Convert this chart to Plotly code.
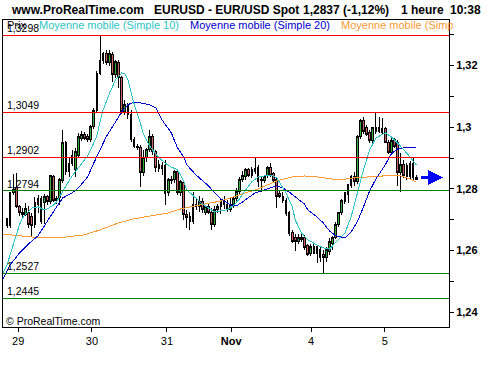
import plotly.graph_objects as go

# ---------------- data ----------------
opens = [1.2703,1.2680,1.2787,1.2803,1.2742,1.2725,1.2716,1.2725,1.2712,1.2686,
         1.2748,1.2768,1.2755,1.2774,1.2758,1.2839,1.2768,1.2771,1.2826,1.2949,
         1.2855,1.2910,1.2862,1.2910,1.2965,1.2978,1.2969,1.2959,1.3001,1.3056,
         1.3176,1.3218,1.3238,1.3209,1.3235,1.3170,1.3209,1.3160,1.3050,1.3073,
         1.3043,1.2959,1.2939,1.2933,1.2852,1.2901,1.2927,1.2969,1.2920,1.2878,
         1.2865,1.2875,1.2787,1.2826,1.2829,1.2855,1.2787,1.2820,1.2716,1.2709,
         1.2693,1.2742,1.2742,1.2758,1.2725,1.2742,1.2725,1.2683,1.2732,1.2742,
         1.2764,1.2748,1.2732,1.2748,1.2768,1.2790,1.2829,1.2839,1.2862,1.2842,
         1.2858,1.2868,1.2829,1.2826,1.2842,1.2868,1.2849,1.2829,1.2784,1.2777,
         1.2764,1.2722,1.2657,1.2644,1.2628,1.2644,1.2641,1.2615,1.2589,1.2612,
         1.2592,1.2602,1.2586,1.2579,1.2596,1.2622,1.2644,1.2683,1.2722,1.2758,
         1.2781,1.2810,1.2839,1.2823,1.2969,1.3021,1.2998,1.2982,1.2956,1.2985,
         1.2998,1.2982,1.2995,1.2952,1.2917,1.2959,1.2949,1.2852,1.2878,1.2875,
         1.2839,1.2881,1.2832]
highs = [1.2706,1.2790,1.2849,1.2852,1.2748,1.2738,1.2755,1.2745,1.2722,1.2774,
         1.2781,1.2777,1.2784,1.2781,1.2845,1.2845,1.2777,1.2836,1.2991,1.2956,
         1.2904,1.2927,1.2933,1.2982,1.2988,1.2985,1.2978,1.3008,1.3063,1.3183,
         1.3300,1.3244,1.3251,1.3251,1.3244,1.3218,1.3218,1.3167,1.3089,1.3079,
         1.3056,1.2969,1.2946,1.2943,1.2927,1.2933,1.2991,1.2978,1.2927,1.2894,
         1.2888,1.2894,1.2836,1.2842,1.2862,1.2862,1.2829,1.2829,1.2732,1.2725,
         1.2790,1.2771,1.2777,1.2771,1.2748,1.2751,1.2738,1.2745,1.2751,1.2771,
         1.2777,1.2764,1.2771,1.2777,1.2803,1.2839,1.2858,1.2868,1.2868,1.2871,
         1.2901,1.2878,1.2842,1.2845,1.2875,1.2884,1.2855,1.2836,1.2797,1.2790,
         1.2771,1.2729,1.2667,1.2654,1.2654,1.2654,1.2651,1.2622,1.2622,1.2622,
         1.2618,1.2612,1.2602,1.2612,1.2641,1.2648,1.2693,1.2725,1.2768,1.2790,
         1.2816,1.2845,1.2855,1.2975,1.3027,1.3034,1.3008,1.2991,1.3001,1.3050,
         1.3034,1.3030,1.3001,1.2959,1.2969,1.2965,1.2959,1.2917,1.2894,1.2884,
         1.2891,1.2904,1.2845]
lows = [1.2674,1.2674,1.2781,1.2738,1.2712,1.2709,1.2712,1.2674,1.2648,1.2674,
        1.2722,1.2686,1.2686,1.2748,1.2751,1.2758,1.2751,1.2748,1.2820,1.2845,
        1.2839,1.2875,1.2839,1.2904,1.2956,1.2959,1.2952,1.2952,1.2995,1.3050,
        1.3170,1.3206,1.3202,1.3199,1.3147,1.3160,1.3128,1.3043,1.3040,1.3027,
        1.2952,1.2933,1.2927,1.2807,1.2842,1.2888,1.2920,1.2910,1.2855,1.2855,
        1.2845,1.2748,1.2777,1.2816,1.2820,1.2781,1.2777,1.2699,1.2674,1.2667,
        1.2686,1.2732,1.2725,1.2722,1.2716,1.2719,1.2667,1.2677,1.2722,1.2719,
        1.2735,1.2725,1.2725,1.2738,1.2761,1.2784,1.2823,1.2829,1.2839,1.2836,
        1.2849,1.2807,1.2790,1.2820,1.2836,1.2839,1.2820,1.2738,1.2771,1.2755,
        1.2712,1.2648,1.2625,1.2599,1.2622,1.2628,1.2602,1.2583,1.2583,1.2589,
        1.2560,1.2563,1.2527,1.2563,1.2586,1.2602,1.2638,1.2677,1.2716,1.2751,
        1.2755,1.2803,1.2810,1.2816,1.2962,1.2978,1.2972,1.2949,1.2949,1.2978,
        1.2982,1.2975,1.2949,1.2914,1.2910,1.2933,1.2810,1.2790,1.2836,1.2829,
        1.2829,1.2826,1.2829]
closes = [1.2680,1.2787,1.2797,1.2742,1.2722,1.2716,1.2735,1.2683,1.2680,1.2755,
          1.2768,1.2693,1.2774,1.2758,1.2842,1.2764,1.2761,1.2832,1.2949,1.2855,
          1.2884,1.2884,1.2920,1.2969,1.2975,1.2965,1.2959,1.3001,1.3056,1.3176,
          1.3218,1.3238,1.3209,1.3238,1.3170,1.3212,1.3160,1.3050,1.3073,1.3043,
          1.2959,1.2939,1.2933,1.2852,1.2901,1.2927,1.2969,1.2920,1.2868,1.2865,
          1.2875,1.2784,1.2829,1.2832,1.2855,1.2787,1.2823,1.2716,1.2706,1.2693,
          1.2748,1.2751,1.2758,1.2732,1.2742,1.2725,1.2683,1.2732,1.2742,1.2764,
          1.2748,1.2732,1.2748,1.2768,1.2790,1.2832,1.2845,1.2862,1.2842,1.2862,
          1.2865,1.2823,1.2826,1.2839,1.2868,1.2845,1.2826,1.2774,1.2774,1.2764,
          1.2719,1.2654,1.2631,1.2628,1.2644,1.2635,1.2609,1.2586,1.2612,1.2592,
          1.2612,1.2579,1.2576,1.2602,1.2628,1.2644,1.2686,1.2722,1.2764,1.2787,
          1.2813,1.2839,1.2823,1.2969,1.3021,1.2985,1.2978,1.2956,1.2998,1.2998,
          1.2985,1.2995,1.2952,1.2917,1.2956,1.2936,1.2852,1.2878,1.2842,1.2839,
          1.2881,1.2836,1.2837]

# moving averages sampled at candle positions
ma10_idx = [-2,0,1,2,3,4,5,7,8,10,12,13,15,16,18,20,21,23,26,27,29,30,31,33,35,37,38,39,41,43,44,46,
            49,51,53,55,57,58,61,63,65,67,69,71,73,75,77,79,81,84,85,87,88,90,92,93,95,97,100,102,
            104,106,109,111,113,115,117,119,122,124,126,128,130,132]
ma10_val = [1.2511,1.2553,1.2586,1.2618,1.2651,1.2683,1.2706,1.2729,1.2738,1.2742,1.2732,1.2735,
            1.2748,1.2758,1.2794,1.2826,1.2842,1.2868,1.2907,1.2927,1.2972,1.3017,1.3056,1.3108,
            1.3154,1.3176,1.3173,1.3154,1.3076,1.3014,1.2978,1.2939,1.2901,1.2884,1.2871,1.2862,
            1.2826,1.2797,1.2768,1.2751,1.2738,1.2725,1.2729,1.2732,1.2745,1.2768,1.2797,1.2823,
            1.2839,1.2845,1.2845,1.2836,1.2820,1.2787,1.2742,1.2699,1.2657,1.2635,1.2618,1.2609,
            1.2605,1.2625,1.2657,1.2709,1.2787,1.2862,1.2927,1.2965,1.2982,1.2969,1.2949,1.2927,
            1.2904,1.2878]
ma20_idx = [-2,0,1,4,7,10,12,14,16,18,21,23,26,28,30,32,34,37,39,41,43,46,48,50,53,55,57,58,61,
            63,65,67,69,72,74,76,78,80,83,85,87,89,91,93,96,97,100,102,104,106,109,111,113,115,
            117,119,122,124,126,128,132]
ma20_val = [1.2495,1.2531,1.2553,1.2592,1.2622,1.2648,1.2680,1.2709,1.2742,1.2771,1.2787,1.2803,
            1.2839,1.2884,1.2927,1.2969,1.3001,1.3050,1.3073,1.3082,1.3079,1.3073,1.3063,1.3024,
            1.2982,1.2933,1.2904,1.2878,1.2845,1.2829,1.2810,1.2787,1.2768,1.2748,1.2745,1.2758,
            1.2774,1.2787,1.2797,1.2803,1.2810,1.2803,1.2790,1.2774,1.2751,1.2732,1.2709,1.2690,
            1.2664,1.2648,1.2641,1.2660,1.2693,1.2742,1.2794,1.2832,1.2878,1.2914,1.2930,1.2933,
            1.2933]
ma_long_idx = [-2,4,8,14,19,25,30,36,41,46,52,56,62,69,75,81,84,88,92,96,100,104,107,112,117,
               123,126,129,132]
ma_long_val = [1.2654,1.2648,1.2644,1.2641,1.2644,1.2651,1.2667,1.2690,1.2703,1.2712,1.2722,
               1.2735,1.2748,1.2761,1.2781,1.2800,1.2813,1.2829,1.2839,1.2842,1.2839,1.2832,
               1.2829,1.2836,1.2839,1.2845,1.2845,1.2836,1.2823]

red_levels = [1.3298, 1.3049, 1.2902]
green_levels = [1.2794, 1.2527, 1.2445]

day_tick_pos = [3.6, 27.4, 51.6, 72.3, 98.1, 121.9]
day_tick_text = ["29", "30", "31", "<b>Nov</b>", "4", "5"]

price_ticks = [1.24, 1.26, 1.28, 1.30, 1.32]
price_tick_text = ["1,24", "1,26", "1,28", "1,3", "1,32"]
price_minor_ticks = [1.25, 1.27, 1.29, 1.31, 1.33]

header_site = "www.ProRealTime.com"
header_symbol = "EURUSD - EUR/USD Spot"
header_quote = "1,2837 (-1,12%)"
header_period = "1 heure"
header_time = "10:38"
legend_price = "Prix"
legend_ma10 = "Moyenne mobile (Simple 10)"
legend_ma20 = "Moyenne mobile (Simple 20)"
legend_malong = "Moyenne mobile (Simp"
copyright_text = "© ProRealTime.com"

# ---------------- styling ----------------
FONT = "Liberation Sans, Arial, sans-serif"
GREEN_BODY = "#33b033"
RED_BODY = "#cc6666"
CYAN = "#2ec4c4"
BLUE = "#0000cc"
ORANGE = "#ff9933"
RED_LINE = "#ff0000"
GREEN_LINE = "#008000"
ARROW = "#0000ff"

idx = list(range(len(closes)))
last = idx[-1]

fig = go.Figure()
fig.add_trace(go.Candlestick(
    x=idx, open=opens, high=highs, low=lows, close=closes,
    increasing=dict(fillcolor=GREEN_BODY, line=dict(color="black", width=1)),
    decreasing=dict(fillcolor=RED_BODY, line=dict(color="black", width=1)),
    whiskerwidth=0, showlegend=False, hoverinfo="skip"))
fig.add_trace(go.Scatter(x=ma_long_idx, y=ma_long_val, mode="lines",
                         line=dict(color=ORANGE, width=1), showlegend=False, hoverinfo="skip"))
fig.add_trace(go.Scatter(x=ma20_idx, y=ma20_val, mode="lines",
                         line=dict(color=BLUE, width=1), showlegend=False, hoverinfo="skip"))
fig.add_trace(go.Scatter(x=ma10_idx, y=ma10_val, mode="lines",
                         line=dict(color=CYAN, width=1), showlegend=False, hoverinfo="skip"))

shapes = []
annotations = []
for lv, col in [(v, RED_LINE) for v in red_levels] + [(v, GREEN_LINE) for v in green_levels]:
    shapes.append(dict(type="line", xref="paper", x0=0, x1=1, yref="y", y0=lv, y1=lv,
                       line=dict(color=col, width=1), layer="above"))
    annotations.append(dict(xref="paper", x=0.006, yref="y", y=lv, yanchor="bottom",
                            xanchor="left", align="left",
                            text=f"{lv:.4f}".replace(".", ","), showarrow=False,
                            font=dict(family=FONT, size=10.5, color="black"), borderpad=0))

# header
for txt, xp in [(header_site, 0.0157), (header_symbol, 0.3363), (header_quote, 0.6704),
                (header_period, 0.8901), (header_time, 1.0011)]:
    annotations.append(dict(xref="paper", yref="paper", x=xp, y=1.0326, xanchor="left",
                            align="left", yanchor="middle", text=f"<b>{txt}</b>",
                            showarrow=False, borderpad=0,
                            font=dict(family=FONT, size=12, color="black")))
# legend texts
for txt, xp, col in [(legend_price, 0.0067, "black"), (legend_ma10, 0.0792, CYAN),
                     (legend_ma20, 0.4177, BLUE), (legend_malong, 0.7556, ORANGE)]:
    annotations.append(dict(xref="paper", yref="paper", x=xp, y=0.9837, xanchor="left",
                            align="left", yanchor="middle", text=txt, showarrow=False,
                            borderpad=0, font=dict(family=FONT, size=11, color=col)))
annotations.append(dict(xref="paper", yref="paper", x=0.0045, y=0.0195, xanchor="left",
                        align="left", yanchor="middle", text=copyright_text, showarrow=False,
                        borderpad=0, font=dict(family=FONT, size=10.5, color="black")))
# last-price arrow
annotations.append(dict(x=last + 8.8, y=closes[-1], xref="x", yref="y",
                        ax=last + 1.0, ay=closes[-1], axref="x", ayref="y",
                        text="", showarrow=True, arrowhead=2, arrowsize=1,
                        arrowwidth=3, arrowcolor=ARROW))

fig.update_layout(
    width=500, height=370,
    margin=dict(l=3, r=51, t=20, b=43),
    paper_bgcolor="white", plot_bgcolor="white",
    boxgap=0.2,
    shapes=shapes, annotations=annotations,
    font=dict(family=FONT, size=11, color="black"),
    xaxis=dict(range=[-1.29, 142.58], rangeslider=dict(visible=False),
               tickmode="array", tickvals=day_tick_pos, ticktext=day_tick_text,
               ticks="outside", ticklen=4, tickcolor="black",
               showgrid=False, zeroline=False, showline=True, mirror=True,
               linecolor="black", linewidth=1,
               tickfont=dict(family=FONT, size=11, color="black")),
    yaxis=dict(range=[1.2352, 1.3348], side="right",
               tickmode="array", tickvals=price_ticks,
               ticktext=[f"<b>{t}</b>" for t in price_tick_text],
               ticks="outside", ticklen=4, tickcolor="black",
               minor=dict(tickmode="array", tickvals=price_minor_ticks, ticks="outside",
                          ticklen=4, tickcolor="black", showgrid=False),
               showgrid=False, zeroline=False, showline=True, mirror=True,
               linecolor="black", linewidth=1,
               tickfont=dict(family=FONT, size=11, color="black")),
)

post = ("document.body.style.margin='0px';document.body.style.overflow='hidden';"
        "document.querySelectorAll('svg.main-svg').forEach(function(s){"
        "s.style.shapeRendering='crispEdges';});")
fig.write_html("out.html", config={"displayModeBar": False}, post_script=post)
